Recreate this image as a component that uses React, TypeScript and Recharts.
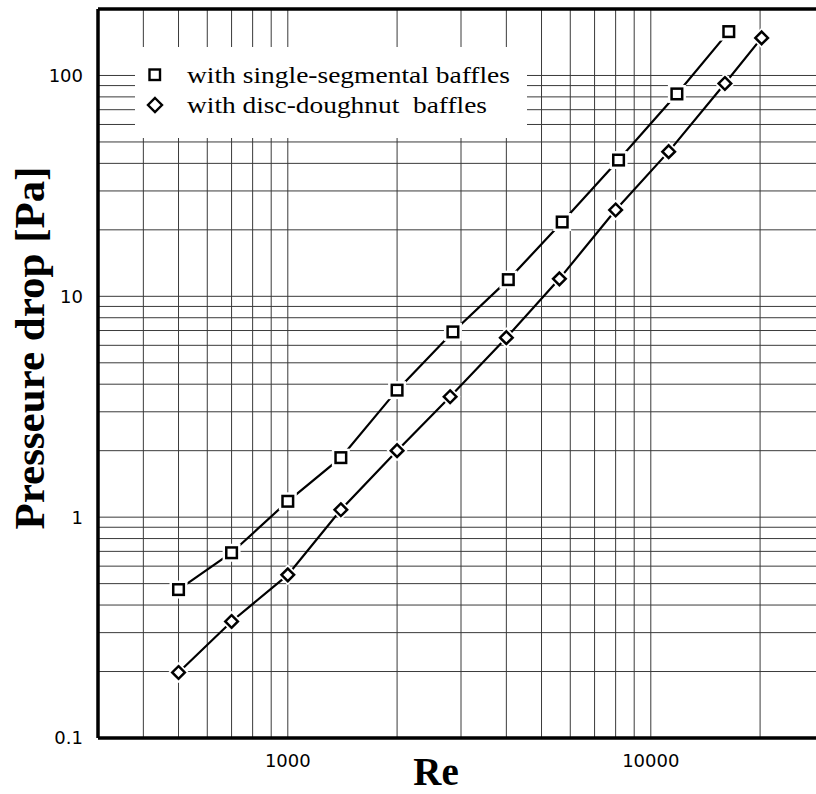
import React from 'react';
import {
    ScatterChart,
    Scatter,
    XAxis,
    YAxis,
    CartesianGrid,
    ReferenceLine,
    Legend,
} from 'recharts';

// Pressure drop vs Reynolds number, two baffle types (log-log)

const seriesNames = ['with single-segmental baffles', 'with disc-doughnut  baffles'];

const singleRe = [500, 700, 1000, 1400, 2000, 2850, 4050, 5700, 8150, 11800, 16400];
const singleDp = [0.47, 0.69, 1.18, 1.86, 3.76, 6.9, 11.9, 21.7, 41.4, 82.5, 158];

const discRe = [500, 700, 1000, 1400, 2000, 2800, 4000, 5600, 8000, 11200, 16000, 20200];
const discDp = [0.198, 0.337, 0.548, 1.08, 2.0, 3.51, 6.5, 12.0, 24.6, 45.2, 92, 148];

// grid positions (log paper) and the labelled decades
const xTicks = [300, 400, 500, 600, 700, 800, 900, 1000, 2000, 3000, 4000, 5000, 6000, 7000, 8000, 9000, 10000, 20000, 30000];
const yTicks = [
    0.1, 0.2, 0.3, 0.4, 0.5, 0.6, 0.7, 0.8, 0.9,
    1, 2, 3, 4, 5, 6, 7, 8, 9,
    10, 20, 30, 40, 50, 60, 70, 80, 90,
    100, 200,
];
const xLabels = [1000, 10000];
const yLabels = [0.1, 1, 10, 100];

const singleData = singleRe.map((re, i) => ({ re, dp: singleDp[i] }));
const discData = discRe.map((re, i) => ({ re, dp: discDp[i] }));

const SERIF = '"Liberation Serif", "Times New Roman", serif';
const SANS = '"DejaVu Sans", sans-serif';

function SquareMark(props: any) {
    const { cx, cy } = props;
    if (cx == null || cy == null) return null;
    return (
        <g>
            <rect x={cx - 9} y={cy - 9} width={18} height={18} fill="#fff" />
            <rect x={cx - 5.3} y={cy - 5.3} width={10.6} height={10.6} fill="#fff" stroke="#000" strokeWidth={2.5} />
        </g>
    );
}

function DiamondMark(props: any) {
    const { cx, cy } = props;
    if (cx == null || cy == null) return null;
    const h = 6.3;
    const o = 10.5;
    return (
        <g>
            <polygon points={`${cx},${cy - o} ${cx + o},${cy} ${cx},${cy + o} ${cx - o},${cy}`} fill="#fff" />
            <polygon
                points={`${cx},${cy - h} ${cx + h},${cy} ${cx},${cy + h} ${cx - h},${cy}`}
                fill="#fff"
                stroke="#000"
                strokeWidth={2.5}
            />
        </g>
    );
}

function LegendBox() {
    return (
        <svg width={392} height={91} style={{ display: 'block' }}>
            <rect x={0} y={0} width={392} height={91} fill="#fff" />
            <rect x={14.5} y={22.5} width={10.5} height={10.5} fill="#fff" stroke="#000" strokeWidth={2.4} />
            <polygon points="20,51 27,58 20,65 13,58" fill="#fff" stroke="#000" strokeWidth={2.4} />
            <text
                x={52}
                y={36}
                fontFamily={SERIF}
                fontSize={24}
                fill="#000"
                textLength={323}
                lengthAdjust="spacingAndGlyphs"
            >
                {seriesNames[0]}
            </text>
            <text
                x={52}
                y={66}
                fontFamily={SERIF}
                fontSize={24}
                fill="#000"
                textLength={300}
                lengthAdjust="spacingAndGlyphs"
                style={{ whiteSpace: 'pre' }}
            >
                {seriesNames[1]}
            </text>
        </svg>
    );
}

export default function App() {
    return (
        <div
            style={{
                position: 'absolute',
                left: 0,
                top: 0,
                width: 816,
                height: 794,
                overflow: 'hidden',
                background: '#fff',
            }}
        >
            <ScatterChart width={824} height={794} margin={{ top: 9, right: 0, bottom: 0, left: 0 }}>
                <CartesianGrid stroke="#3a3a3a" strokeWidth={1} />
                <XAxis
                    dataKey="re"
                    type="number"
                    scale="log"
                    domain={[300, 30000]}
                    allowDataOverflow
                    ticks={xTicks}
                    interval={0}
                    height={56}
                    tickLine={false}
                    tickSize={0}
                    tickMargin={16}
                    axisLine={{ stroke: '#000', strokeWidth: 3.5 }}
                    tick={{ fill: '#000', fontSize: 18, fontFamily: SANS }}
                    tickFormatter={(v) => (xLabels.includes(v) ? String(v) : '')}
                    label={() => (
                        <text x={436} y={785} textAnchor="middle" fontFamily={SERIF} fontWeight="bold" fontSize={39} fill="#000">
                            Re
                        </text>
                    )}
                />
                <YAxis
                    dataKey="dp"
                    type="number"
                    scale="log"
                    domain={[0.1, 200]}
                    allowDataOverflow
                    ticks={yTicks}
                    interval={0}
                    width={98}
                    tickLine={false}
                    tickSize={0}
                    tickMargin={15}
                    axisLine={{ stroke: '#000', strokeWidth: 3.5 }}
                    tick={{ fill: '#000', fontSize: 18, fontFamily: SANS }}
                    tickFormatter={(v) => (yLabels.includes(v) ? String(v) : '')}
                    label={() => (
                        <text
                            x={44}
                            y={348}
                            transform="rotate(-90 44 348)"
                            textAnchor="middle"
                            fontFamily={SERIF}
                            fontWeight="bold"
                            fontSize={43}
                            fill="#000"
                        >
                            Presseure drop [Pa]
                        </text>
                    )}
                />
                <ReferenceLine y={200} stroke="#000" strokeWidth={3.5} />
                <Legend
                    layout="horizontal"
                    verticalAlign="middle"
                    align="center"
                    content={() => <LegendBox />}
                    wrapperStyle={{ position: 'absolute', left: 135, top: 47, width: 392, height: 91 }}
                />
                <Scatter
                    name={seriesNames[0]}
                    data={singleData}
                    line={{ stroke: '#000', strokeWidth: 2.2 }}
                    shape={SquareMark}
                    isAnimationActive={false}
                />
                <Scatter
                    name={seriesNames[1]}
                    data={discData}
                    line={{ stroke: '#000', strokeWidth: 2.2 }}
                    shape={DiamondMark}
                    isAnimationActive={false}
                />
            </ScatterChart>
        </div>
    );
}
